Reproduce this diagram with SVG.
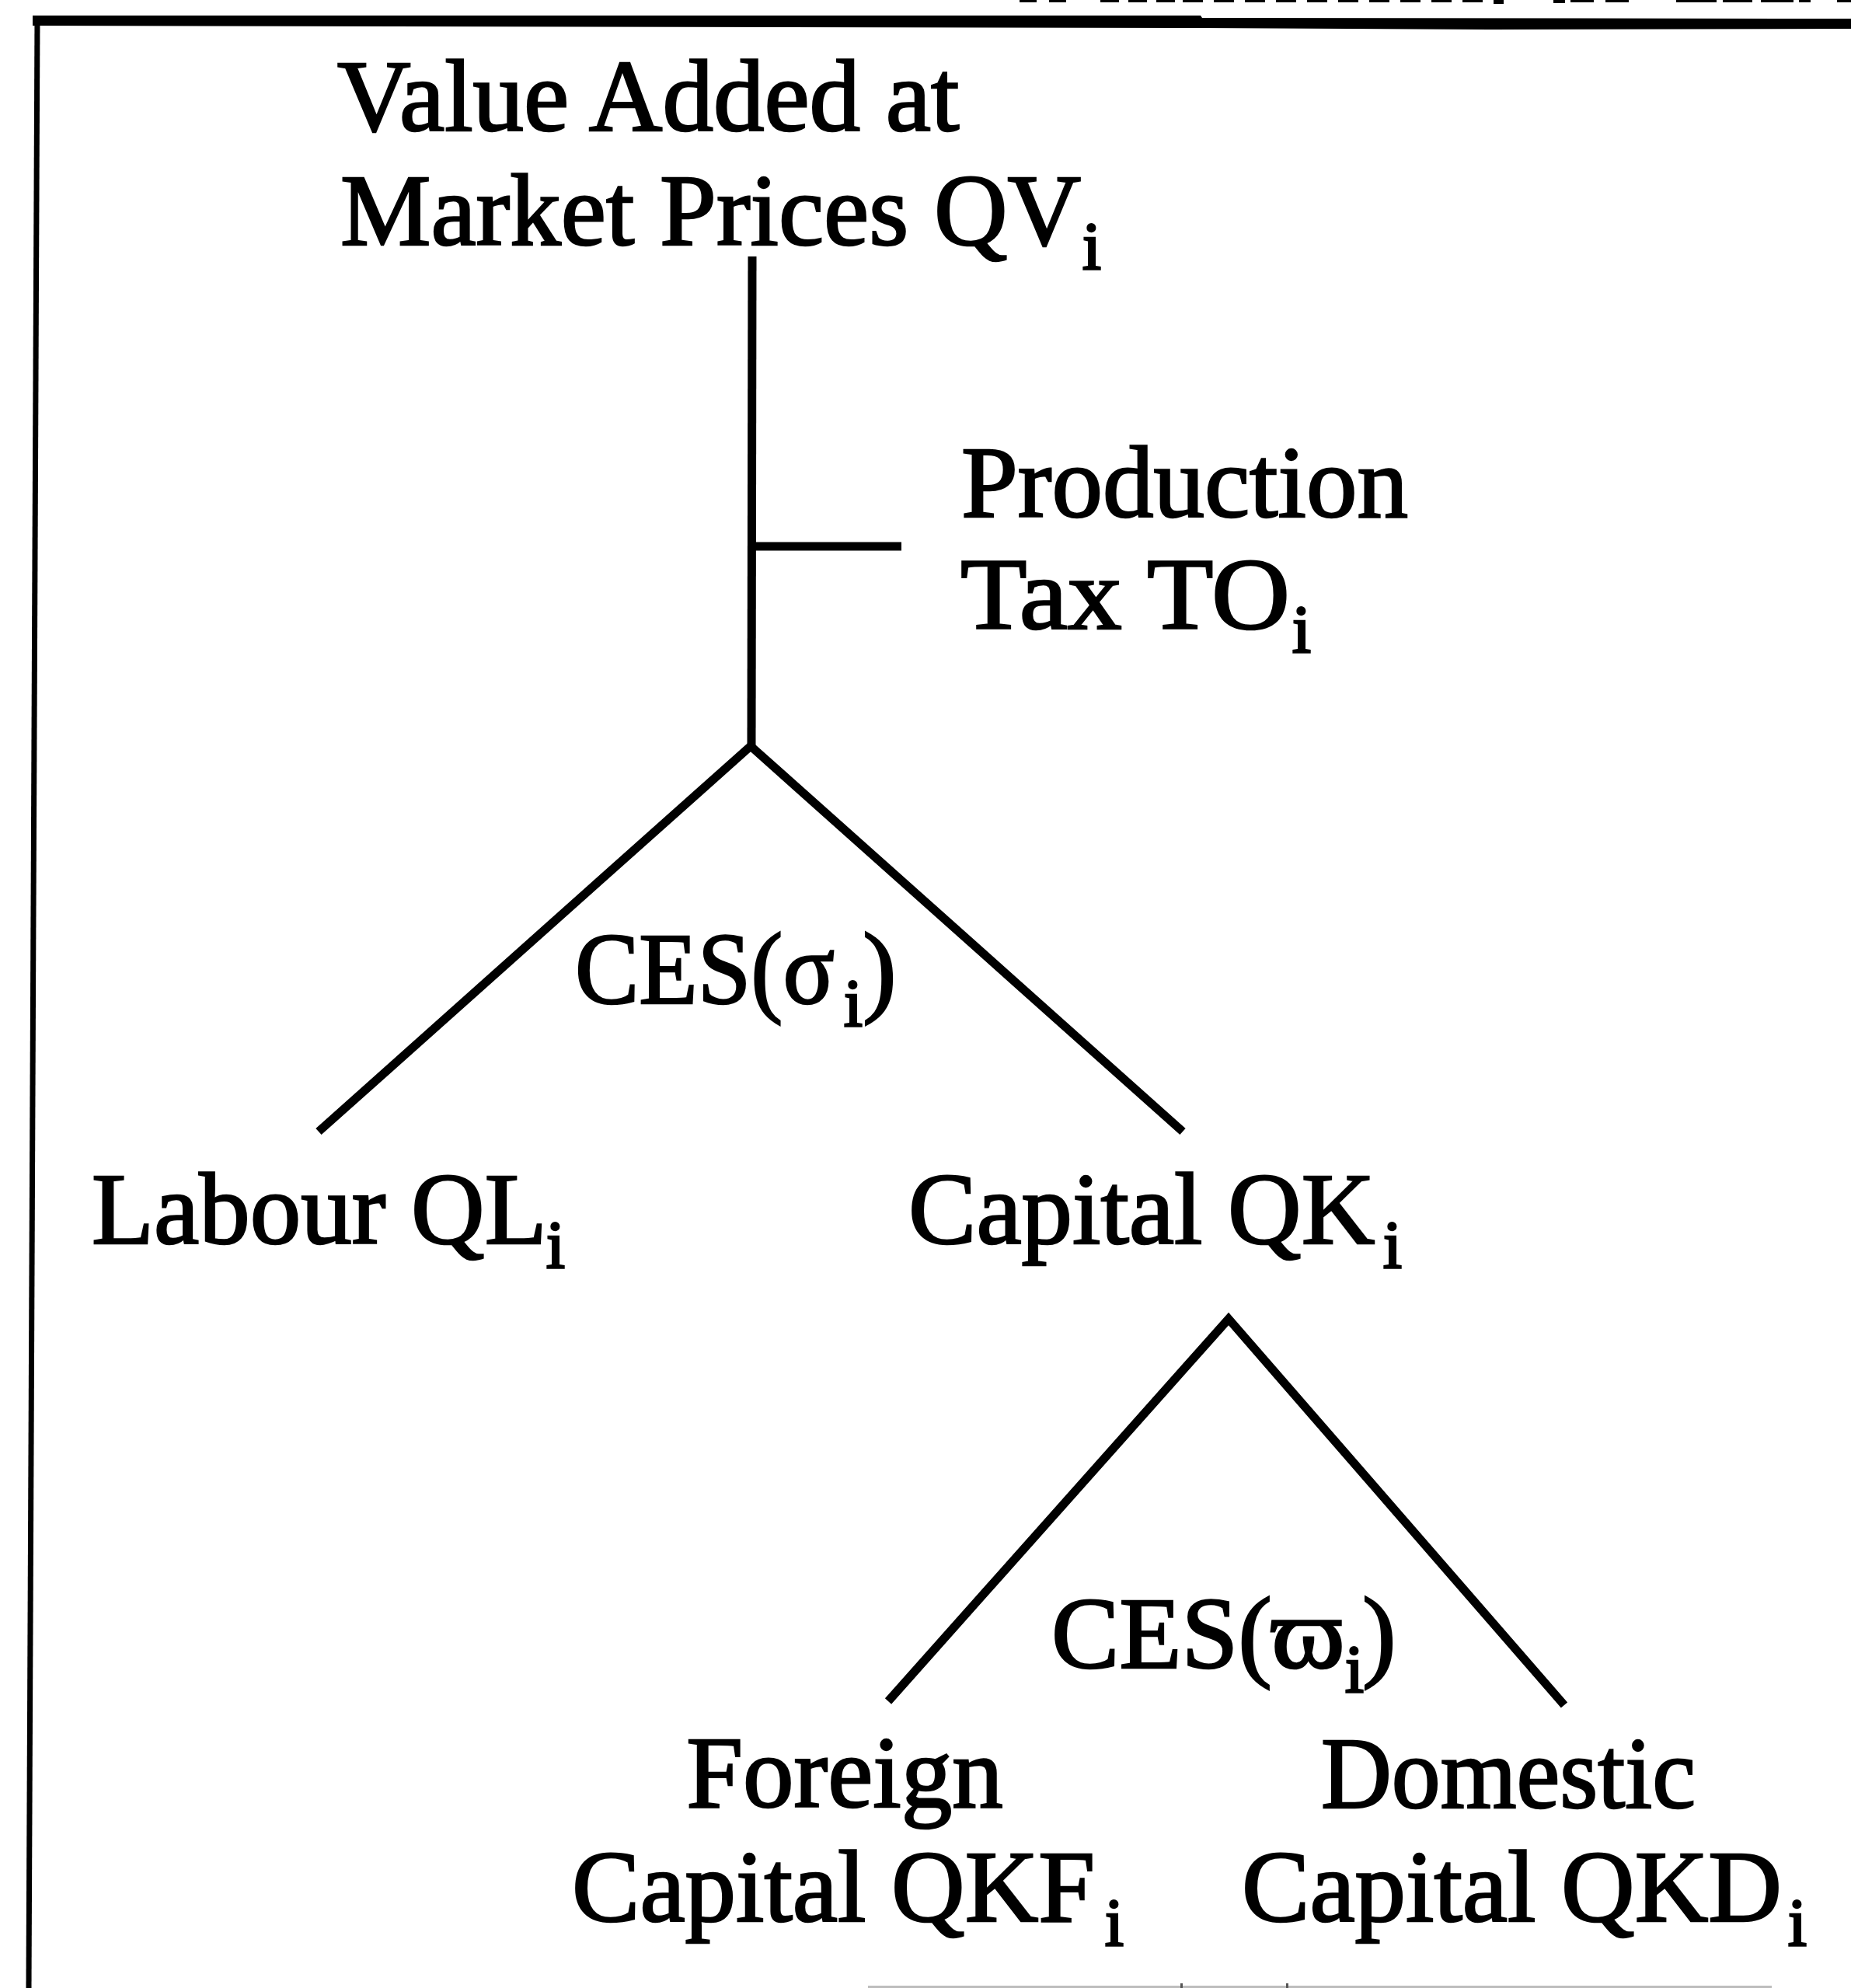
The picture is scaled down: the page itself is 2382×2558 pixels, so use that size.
<svg xmlns="http://www.w3.org/2000/svg" width="2382" height="2558" viewBox="0 0 2382 2558">
  <style>
    .t { font-family: "Liberation Serif", "DejaVu Serif", serif; font-size: 131px; fill: #000; stroke: #000; stroke-width: 2.5; }
    .s { font-size: 86px; stroke-width: 3; }
    .mid { text-anchor: middle; }
    .ln { fill: none; stroke: #000; stroke-width: 11; stroke-linecap: butt; stroke-linejoin: miter; }
    .frame { fill: #000; }
  </style>

  <rect x="0" y="0" width="2382" height="2558" fill="#fff"/>

  <!-- page frame: heavy top rule and left rule -->
  <g id="frame">
    <polygon class="frame" points="42,20 1545,20 1547,23 2382,24 2382,37 1916,38 1545,36 42,33"/>
    <line x1="48" y1="22" x2="37" y2="2558" stroke="#000" stroke-width="7"/>
    <!-- feet of the running head clipped by the page top -->
    <g fill="#000">
      <rect x="1312" y="0" width="22" height="3"/>
      <rect x="1350" y="0" width="22" height="3"/>
      <rect x="1416" y="0" width="24" height="3"/>
      <rect x="1452" y="0" width="24" height="3"/>
      <rect x="1488" y="0" width="24" height="3"/>
      <rect x="1522" y="0" width="26" height="3"/>
      <rect x="1562" y="0" width="26" height="3"/>
      <rect x="1602" y="0" width="26" height="3"/>
      <rect x="1642" y="0" width="26" height="3"/>
      <rect x="1682" y="0" width="26" height="3"/>
      <rect x="1722" y="0" width="26" height="3"/>
      <rect x="1762" y="0" width="26" height="3"/>
      <rect x="1802" y="0" width="26" height="3"/>
      <rect x="1842" y="0" width="26" height="3"/>
      <rect x="1882" y="0" width="26" height="3"/>
      <rect x="1922" y="0" width="13" height="5"/>
      <rect x="1999" y="0" width="15" height="4"/>
      <rect x="2021" y="0" width="30" height="3"/>
      <rect x="2066" y="0" width="30" height="3"/>
      <rect x="2157" y="0" width="52" height="3"/>
      <rect x="2217" y="0" width="38" height="3"/>
      <rect x="2266" y="0" width="42" height="3"/>
      <rect x="2315" y="0" width="15" height="3"/>
      <rect x="2364" y="0" width="18" height="3"/>
    </g>
    <!-- top edge of the rule below, cut by the page bottom -->
    <rect x="1117" y="2555" width="1163" height="3" fill="#bdbdbd"/>
    <rect x="1519" y="2552" width="3" height="6" fill="#555"/>
    <rect x="1655" y="2552" width="3" height="6" fill="#555"/>
  </g>

  <!-- connectors -->
  <g id="connectors">
    <line class="ln" x1="968" y1="330" x2="967" y2="962"/>
    <line class="ln" x1="968" y1="703" x2="1160" y2="703" stroke-width="12"/>
    <polyline class="ln" points="410,1456 966,960 1522,1456"/>
    <polyline class="ln" points="1143,2189 1581,1697 2013,2194"/>
  </g>

  <g id="node-value-added">
    <text class="t" x="434" y="168">Value Added at</text>
    <text class="t" x="438" y="315">Market Prices QV</text>
    <text class="t s" x="1393" y="346">i</text>
  </g>

  <g id="node-production-tax">
    <text class="t" x="1237" y="665">Production</text>
    <text class="t" x="1236" y="809" textLength="424" lengthAdjust="spacingAndGlyphs">Tax TO</text>
    <text class="t s" x="1663" y="839">i</text>
  </g>

  <g id="label-ces-sigma">
    <text class="t" x="740" y="1291" textLength="334" lengthAdjust="spacingAndGlyphs">CES(σ</text>
    <text class="t s" x="1086" y="1320">i</text>
    <text class="t" x="1110" y="1291">)</text>
  </g>

  <g id="node-labour">
    <text class="t" x="118" y="1600">Labour QL</text>
    <text class="t s" x="703" y="1631">i</text>
  </g>

  <g id="node-capital">
    <text class="t" x="1169" y="1600">Capital QK</text>
    <text class="t s" x="1780" y="1631">i</text>
  </g>

  <g id="label-ces-varpi">
    <text class="t" x="1353" y="2146">CES(</text>
    <text class="t" x="1636" y="2146" textLength="95" lengthAdjust="spacingAndGlyphs">ϖ</text>
    <text class="t s" x="1731" y="2177">i</text>
    <text class="t" x="1753" y="2146">)</text>
  </g>

  <g id="node-foreign-capital">
    <text class="t mid" x="1087" y="2325">Foreign</text>
    <text class="t" x="736" y="2472">Capital QKF</text>
    <text class="t s" x="1422" y="2503">i</text>
  </g>

  <g id="node-domestic-capital">
    <text class="t" x="1700" y="2326" textLength="482" lengthAdjust="spacingAndGlyphs">Domestic</text>
    <text class="t" x="1598" y="2472">Capital QKD</text>
    <text class="t s" x="2301" y="2503">i</text>
  </g>
</svg>
